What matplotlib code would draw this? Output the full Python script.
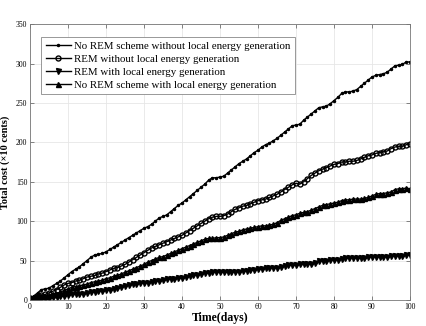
import matplotlib
matplotlib.use("Agg")

import numpy as np
import matplotlib.pyplot as plt

plt.rcParams["font.family"] = ["Liberation Serif", "DejaVu Serif"]

# daily cumulative cost (x10 cents), day 0..100
days = np.arange(0, 101)

no_rem_no_local = [
    2, 5, 9, 13, 14, 15, 18, 21, 24, 28, 32, 36, 39, 42, 46, 50, 54, 57, 58, 59,
    61, 64, 67, 70, 73, 76, 79, 82, 85, 88, 91, 93, 96, 100, 104, 106, 108, 112, 116, 120,
    123, 127, 131, 135, 139, 143, 147, 152, 155, 155, 156, 157, 161, 165, 169, 173, 176, 179, 183, 187,
    190, 194, 197, 199, 202, 205, 209, 213, 217, 221, 222, 223, 228, 232, 236, 240, 244, 245, 246, 249,
    253, 257, 262, 264, 264, 265, 267, 271, 275, 279, 283, 285, 286, 287, 289, 293, 297, 298, 299, 302,
    302,
]

rem_no_local = [
    2, 3, 5, 6, 7, 9, 11, 13, 16, 19, 21, 22, 24, 25, 27, 29, 30, 31, 33, 34,
    36, 38, 40, 41, 43, 45, 48, 51, 54, 57, 60, 63, 66, 68, 70, 72, 74, 76, 78, 80,
    82, 85, 88, 91, 94, 97, 100, 103, 105, 106, 106, 107, 109, 112, 115, 117, 119, 120, 122, 124,
    126, 127, 128, 130, 132, 134, 137, 140, 143, 146, 148, 147, 150, 154, 158, 161, 164, 166, 168, 170,
    172, 173, 175, 175, 176, 176, 177, 179, 181, 183, 184, 186, 187, 188, 189, 192, 194, 195, 195, 197,
    198,
]

rem_local = [
    1, 1, 2, 2, 3, 3, 4, 4, 5, 5, 6, 7, 7, 8, 8, 9, 10, 10, 11, 11,
    12, 13, 14, 15, 16, 18, 19, 20, 20, 21, 22, 22, 23, 24, 24, 25, 26, 27, 27, 28,
    28, 29, 30, 31, 32, 33, 34, 34, 35, 35, 35, 35, 35, 35, 36, 36, 37, 37, 38, 38,
    39, 39, 40, 40, 41, 41, 42, 43, 44, 44, 44, 45, 45, 45, 46, 47, 50, 50, 50, 51,
    51, 51, 52, 53, 53, 53, 53, 53, 53, 54, 55, 55, 55, 55, 55, 56, 56, 56, 56, 57,
    57,
]

no_rem_local = [
    2, 3, 4, 5, 5, 6, 7, 8, 10, 12, 14, 16, 17, 18, 19, 20, 22, 23, 24, 25,
    27, 28, 30, 31, 33, 35, 37, 39, 41, 43, 45, 48, 50, 52, 54, 55, 57, 59, 61, 63,
    65, 67, 69, 71, 73, 75, 77, 78, 78, 79, 79, 80, 82, 84, 86, 87, 89, 90, 91, 92,
    93, 94, 94, 95, 96, 98, 101, 103, 105, 107, 108, 110, 111, 112, 114, 116, 118, 120, 121, 122,
    123, 124, 126, 127, 127, 128, 128, 128, 129, 130, 132, 134, 135, 135, 136, 137, 140, 141, 141, 142,
    141,
]

labels = [
    "No REM scheme without local energy generation",
    "REM without local energy generation",
    "REM with local energy generation",
    "No REM scheme with local energy generation",
]

fig = plt.figure(figsize=(4.27, 3.26), dpi=100)
ax = fig.add_axes([0.0703, 0.080, 0.890, 0.846])

ax.plot(days, no_rem_no_local, color="black", lw=1.0, marker=".", ms=3.0, label=labels[0])
ax.plot(days, rem_no_local, color="black", lw=1.0, marker="o", ms=3.6, mfc="none", mew=1.0, label=labels[1])
ax.plot(days, rem_local, color="black", lw=1.0, marker="v", ms=3.6, label=labels[2])
ax.plot(days, no_rem_local, color="black", lw=1.0, marker="^", ms=3.6, label=labels[3])

ax.set_xlim(0, 100)
ax.set_ylim(0, 350)
ax.set_xticks(np.arange(0, 101, 10))
ax.set_yticks(np.arange(0, 351, 50))
ax.grid(True, color="#e6e6e6", lw=0.6)
ax.set_axisbelow(True)
ax.tick_params(direction="in", top=True, right=True, labelsize=5.5, length=3,
               width=0.5, color="#555555", pad=2)
for s in ax.spines.values():
    s.set_color("#777777")
    s.set_linewidth(0.6)

ax.set_xlabel("Time(days)", fontsize=8.5, fontweight="bold", labelpad=1)
ax.set_ylabel("Total cost (\u00d710 cents)", fontsize=7.5, fontweight="bold", labelpad=4)

leg = ax.legend(loc="upper left", bbox_to_anchor=(0.03, 0.953), fontsize=7.8,
                fancybox=False, edgecolor="#888888", framealpha=1,
                handlelength=2.3, handletextpad=0.3, labelspacing=0.3,
                borderpad=0.4, borderaxespad=0)
leg.get_frame().set_linewidth(0.6)

fig.savefig("out.png", dpi=100)
